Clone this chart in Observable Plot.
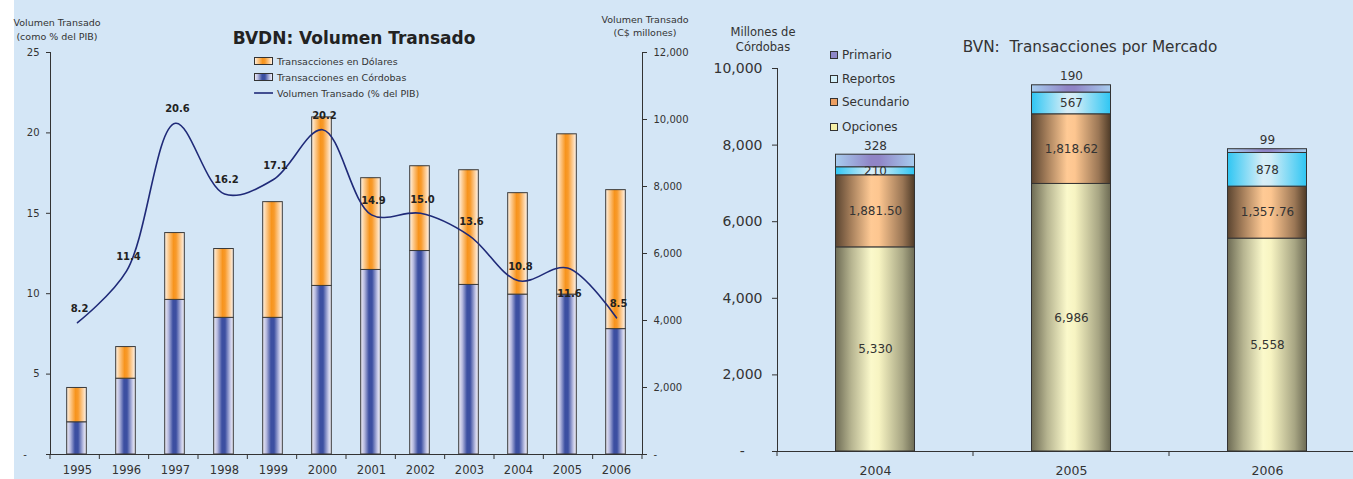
<!DOCTYPE html>
<html><head><meta charset="utf-8">
<script src="https://cdn.jsdelivr.net/npm/d3@7"></script>
<script src="https://cdn.jsdelivr.net/npm/@observablehq/plot@0.6"></script>
<style>
html,body{margin:0;padding:0;background:#fff;}
#wrap{position:relative;width:1353px;height:479px;overflow:hidden;background:#d4e6f6;font-family:"DejaVu Sans",Verdana,sans-serif;color:#333;}
#strip{position:absolute;left:0;top:0;width:14px;height:479px;background:#fff;}
.abs{position:absolute;white-space:nowrap;}
.plot{position:absolute;top:0;}
.plot svg{max-width:none !important;}
.lg{position:absolute;white-space:nowrap;display:flex;align-items:center;}
</style></head><body>
<svg width="0" height="0" style="position:absolute">
<defs>
<linearGradient id="gC" x1="0" x2="1" y1="0" y2="0">
<stop offset="0" stop-color="#eeedf7"/><stop offset="0.18" stop-color="#b9bce0"/><stop offset="0.42" stop-color="#3c4fa1"/><stop offset="0.58" stop-color="#3c4fa1"/><stop offset="0.85" stop-color="#c3c6e6"/><stop offset="1" stop-color="#f6f6fb"/>
</linearGradient>
<linearGradient id="gD" x1="0" x2="1" y1="0" y2="0">
<stop offset="0" stop-color="#fff3e6"/><stop offset="0.2" stop-color="#fcc88a"/><stop offset="0.45" stop-color="#f7941d"/><stop offset="0.58" stop-color="#f89a2a"/><stop offset="0.85" stop-color="#fdd5a8"/><stop offset="1" stop-color="#fff6ee"/>
</linearGradient>
<linearGradient id="gO" x1="0" x2="1" y1="0" y2="0">
<stop offset="0" stop-color="#6d6b54"/><stop offset="0.2" stop-color="#b6b490"/><stop offset="0.45" stop-color="#fbf9cb"/><stop offset="0.55" stop-color="#f7f4c2"/><stop offset="0.85" stop-color="#a7a583"/><stop offset="1" stop-color="#6d6b54"/>
</linearGradient>
<linearGradient id="gS" x1="0" x2="1" y1="0" y2="0">
<stop offset="0" stop-color="#5a4430"/><stop offset="0.2" stop-color="#a7805c"/><stop offset="0.45" stop-color="#ffca95"/><stop offset="0.55" stop-color="#fdc690"/><stop offset="0.85" stop-color="#9a7655"/><stop offset="1" stop-color="#4e3b28"/>
</linearGradient>
<linearGradient id="gR" x1="0" x2="1" y1="0" y2="0">
<stop offset="0" stop-color="#2fc6f3"/><stop offset="0.45" stop-color="#d9eef7"/><stop offset="0.55" stop-color="#d0ecf7"/><stop offset="1" stop-color="#2fc6f3"/>
</linearGradient>
<linearGradient id="gP" x1="0" x2="1" y1="0" y2="0">
<stop offset="0" stop-color="#a8cdef"/><stop offset="0.45" stop-color="#9085c6"/><stop offset="0.55" stop-color="#9085c6"/><stop offset="1" stop-color="#a8cdef"/>
</linearGradient>
</defs></svg>
<div id="wrap">
<div id="strip"></div>
<div id="leftBars" class="plot" style="left:0;width:700px"></div>
<div id="leftLine" class="plot" style="left:0;width:700px"></div>
<div id="right" class="plot" style="left:700px;width:665px"></div>

<div class="abs" style="left:7px;top:16px;width:100px;text-align:center;font-size:9.5px;line-height:14px;">Volumen Transado<br>(como % del PIB)</div>
<div class="abs" style="left:154px;top:27px;width:400px;text-align:center;font-size:17px;font-weight:bold;line-height:22px;color:#222;">BVDN: Volumen Transado</div>
<div class="abs" style="left:585px;top:13px;width:120px;text-align:center;font-size:9.5px;line-height:13px;">Volumen Transado<br>(C$ millones)</div>

<div class="lg" style="left:254px;top:54px;height:14px;font-size:9.5px;"><svg width="19" height="8" style="margin-right:4px"><rect x="0.5" y="0.5" width="18" height="7" fill="url(#gD)" stroke="#333"/></svg>Transacciones en Dólares</div>
<div class="lg" style="left:254px;top:70px;height:14px;font-size:9.5px;"><svg width="19" height="8" style="margin-right:4px"><rect x="0.5" y="0.5" width="18" height="7" fill="url(#gC)" stroke="#333"/></svg>Transacciones en Córdobas</div>
<div class="lg" style="left:254px;top:86px;height:14px;font-size:9.5px;"><svg width="19" height="8" style="margin-right:4px"><line x1="0" x2="19" y1="4" y2="4" stroke="#1f2a78" stroke-width="1.6"/></svg>Volumen Transado (% del PIB)</div>

<div class="abs" style="left:713px;top:25px;width:100px;text-align:center;font-size:11.5px;line-height:15px;">Millones de<br>Córdobas</div>
<div class="abs" style="left:890px;top:37px;width:400px;text-align:center;font-size:15.3px;line-height:20px;">BVN:&nbsp; Transacciones por Mercado</div>

<div class="lg" style="left:829px;top:47px;height:16px;font-size:12px;"><svg width="10" height="9" style="margin-right:3px"><rect x="1.5" y="0.5" width="7" height="7" fill="#8f88c8" stroke="#333"/></svg>Primario</div>
<div class="lg" style="left:829px;top:71px;height:16px;font-size:12px;"><svg width="10" height="9" style="margin-right:3px"><rect x="1.5" y="0.5" width="7" height="7" fill="#d3f0fa" stroke="#333"/></svg>Reportos</div>
<div class="lg" style="left:829px;top:94px;height:16px;font-size:12px;"><svg width="10" height="9" style="margin-right:3px"><rect x="1.5" y="0.5" width="7" height="7" fill="#ec9f62" stroke="#333"/></svg>Secundario</div>
<div class="lg" style="left:829px;top:119px;height:16px;font-size:12px;"><svg width="10" height="9" style="margin-right:3px"><rect x="1.5" y="0.5" width="7" height="7" fill="#f6f1a8" stroke="#333"/></svg>Opciones</div>
</div>
<script>
// ---- Left chart data: BVDN Volumen Transado ----
const years = ["1995","1996","1997","1998","1999","2000","2001","2002","2003","2004","2005","2006"];
const cordobas = [962, 2263, 4615, 4079, 4079, 5032, 5509, 6074, 5062, 4773, 4773, 3743];   // C$ millones
const dolares  = [1024, 944, 1995, 2055, 3454, 5032, 2739, 2531, 3424, 3028, 4785, 4148];  // C$ millones
const pibPct   = [8.2, 11.4, 20.6, 16.2, 17.1, 20.2, 14.9, 15.0, 13.6, 10.8, 11.6, 8.5];
const pctTicks = [0, 5, 10, 15, 20, 25];
const millonesTicks = [0, 2000, 4000, 6000, 8000, 10000, 12000];

// ---- Right chart data: BVN Transacciones por Mercado ----
const bvnYears = ["2004", "2005", "2006"];
const opciones   = [5330, 6986, 5558];
const secundario = [1881.50, 1818.62, 1357.76];
const reportos   = [210, 567, 878];
const primario   = [328, 190, 99];
const bvnTicks = [0, 2000, 4000, 6000, 8000, 10000];

const FONT = '"DejaVu Sans", Verdana, sans-serif';
const comma = d3.format(",");

function boundaryTicks(plot, len) {
  const sx = plot.scale("x"), sy = plot.scale("y");
  const n = sx.domain.length, r0 = sx.range[0], r1 = sx.range[1];
  const step = (r1 - r0) / n, y0 = sy.range[0];
  const g = d3.select(plot).append("g").attr("stroke", "#333").attr("stroke-width", 1);
  for (let i = 0; i <= n; i++) {
    g.append("line").attr("x1", r0 + i * step).attr("x2", r0 + i * step).attr("y1", y0).attr("y2", y0 + len);
  }
}
function setAxisFont(plot, axis, size) {
  d3.select(plot).selectAll(`[aria-label^="${axis}-axis"] text`).attr("font-size", size);
}

// Left bars (secondary axis, C$ millones)
const barRows = [];
years.forEach((y, i) => {
  barRows.push({year: y, serie: "Córdobas", v: cordobas[i]});
  barRows.push({year: y, serie: "Dólares", v: dolares[i]});
});
const leftDims = {width: 700, height: 479, marginLeft: 50, marginRight: 58, marginTop: 52, marginBottom: 25};
const leftBars = Plot.plot({
  ...leftDims,
  style: {background: "transparent", fontFamily: FONT, fontSize: "10px", color: "#333", overflow: "visible"},
  x: {type: "band", domain: years, padding: 0, axis: null},
  y: {domain: [0, 12000], axis: "right", ticks: millonesTicks, tickFormat: d => d === 0 ? "-" : comma(d),
      tickSize: 4, tickPadding: 7, line: true, label: null},
  color: {domain: ["Córdobas", "Dólares"], range: ["url(#gC)", "url(#gD)"]},
  marks: [
    Plot.barY(barRows, {x: "year", y: "v", fill: "serie", stroke: "#3a3a3a", strokeWidth: 1, insetLeft: 14.7, insetRight: 14.7})
  ]
});
document.getElementById("leftBars").appendChild(leftBars);

// Left line (primary axis, % del PIB) - point scale aligned with band centres
const lineRows = years.map((y, i) => ({year: y, pct: pibPct[i]}));
const leftLine = Plot.plot({
  ...leftDims,
  style: {background: "transparent", fontFamily: FONT, fontSize: "10px", color: "#333", overflow: "visible"},
  x: {type: "point", domain: years, padding: 0.5, tickSize: 0, tickPadding: 11, line: true, label: null},
  y: {domain: [0, 25], ticks: pctTicks, tickFormat: d => d === 0 ? "-\u00a0\u00a0\u00a0\u00a0" : d,
      tickSize: 4, tickPadding: 7, line: true, label: null},
  marks: [
    Plot.line(lineRows, {x: "year", y: "pct", curve: "catmull-rom", stroke: "#1f2a78", strokeWidth: 1.6}),
    Plot.text(lineRows, {filter: d => d.year !== "2005", x: "year", y: "pct", text: d => d.pct.toFixed(1),
      dy: -14, dx: 2, fontWeight: "bold", fontSize: 10, fill: "#222"}),
    Plot.text(lineRows, {filter: d => d.year === "2005", x: "year", y: "pct", text: d => d.pct.toFixed(1),
      dy: 26, dx: 2, fontWeight: "bold", fontSize: 10, fill: "#222"})
  ]
});
document.getElementById("leftLine").appendChild(leftLine);
setAxisFont(leftLine, "x", "11.5px");
boundaryTicks(leftLine, 5);

// Right chart
const series = ["Opciones", "Secundario", "Reportos", "Primario"];
const seriesVals = {Opciones: opciones, Secundario: secundario, Reportos: reportos, Primario: primario};
const bvnRows = [];
bvnYears.forEach((y, i) => series.forEach(s => bvnRows.push({year: y, serie: s, v: seriesVals[s][i]})));
const fmt = d => d.serie === "Secundario" ? d3.format(",.2f")(d.v) : comma(d.v);
const right = Plot.plot({
  width: 665, height: 479, marginLeft: 77, marginRight: 0, marginTop: 68, marginBottom: 28,
  style: {background: "transparent", fontFamily: FONT, fontSize: "14px", color: "#333", overflow: "visible"},
  x: {type: "band", domain: bvnYears, padding: 0, tickSize: 0, tickPadding: 15, line: true, label: null},
  y: {domain: [0, 10000], ticks: bvnTicks, tickFormat: d => d === 0 ? "-\u00a0\u00a0\u00a0\u00a0" : comma(d),
      tickSize: 5, tickPadding: 10, line: true, label: null},
  color: {domain: series, range: ["url(#gO)", "url(#gS)", "url(#gR)", "url(#gP)"]},
  marks: [
    Plot.barY(bvnRows, {x: "year", y: "v", z: "serie", fill: "serie", stroke: "#333", strokeWidth: 1, insetLeft: 58.5, insetRight: 58.5}),
    Plot.text(bvnRows, Plot.stackY({x: "year", y: "v", z: "serie", text: d => d.serie === "Primario" ? "" : fmt(d),
      fontSize: 12, fill: "#333"})),
    Plot.text(bvnRows, Plot.stackY2({x: "year", y: "v", z: "serie", text: d => d.serie === "Primario" ? fmt(d) : "",
      dy: -9, fontSize: 12, fill: "#333"}))
  ]
});
document.getElementById("right").appendChild(right);
setAxisFont(right, "x", "12.5px");
boundaryTicks(right, 5);
</script>
</body></html>
